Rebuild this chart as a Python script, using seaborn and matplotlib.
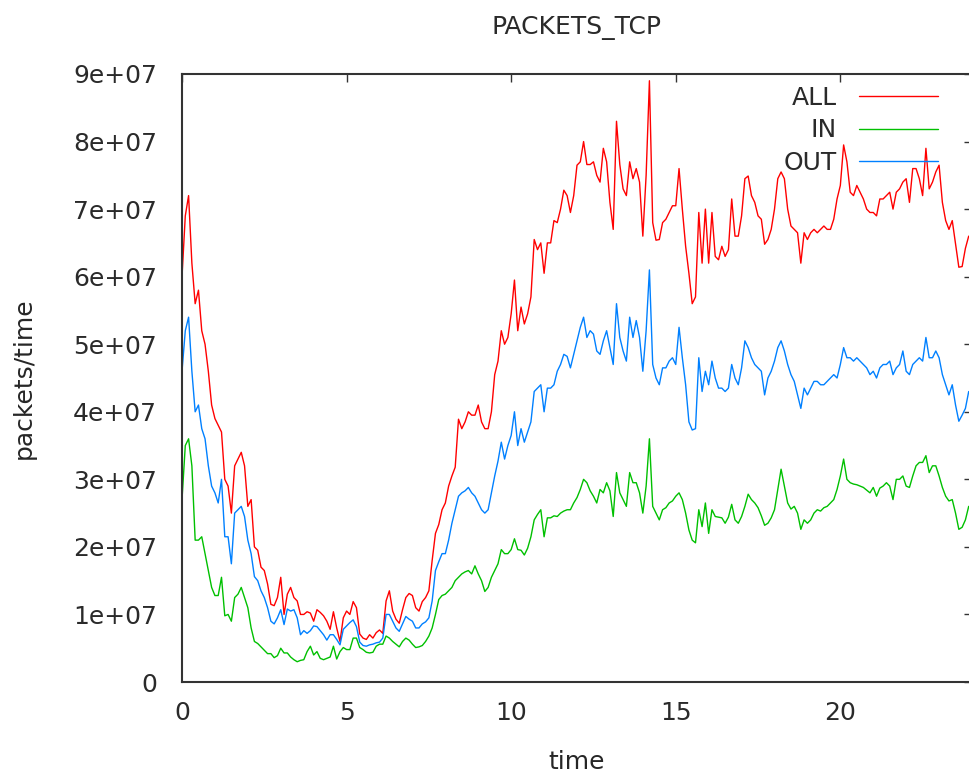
"""
packets_tcp.py - curva diaria de pacotes TCP (ALL / IN / OUT), estilo gnuplot
"""
import numpy as np
import pandas as pd
import matplotlib
matplotlib.use("Agg")
import matplotlib.pyplot as plt
from matplotlib.ticker import FuncFormatter
import seaborn as sns

# valores em milhoes de pacotes, uma amostra a cada 0.1 h (uma linha = 1 hora)
STEP_H = 0.1
SERIES = ["ALL", "IN", "OUT"]
CORES = {"ALL": "#ff0000", "IN": "#00c000", "OUT": "#0080ff"}

all_pkts = [
    60, 69, 72, 62, 56, 58, 52, 50, 46, 41,
    39, 38, 37, 30, 29, 25, 32, 33, 34, 32,
    26, 27, 20, 19.5, 17, 16.5, 14.5, 11.5, 11.3, 12.5,
    15.5, 10, 13, 14, 12.5, 12, 10, 10, 10.4, 10.2,
    9, 10.7, 10.3, 9.8, 9, 7.8, 10.4, 8, 6, 9.5,
    10.5, 10, 11.9, 11, 7.1, 6.5, 6.3, 7, 6.5, 7.3,
    7.7, 7.2, 12, 13.5, 10.5, 9.3, 8.7, 10.7, 12.5, 13.1,
    12.8, 11, 10.5, 11.9, 12.5, 13.5, 18, 22, 23.3, 25.5,
    26.5, 29, 30.5, 31.8, 38.9, 37.5, 38.5, 40, 39.5, 39.5,
    41, 38.5, 37.5, 37.5, 40, 45.5, 47.5, 52, 50, 51,
    54.5, 59.5, 52, 55.5, 53, 54.5, 57, 65.5, 64, 65,
    60.5, 65, 65, 68.3, 68, 70, 72.8, 72, 69.5, 72,
    76.5, 77, 80, 76.6, 76.6, 77, 75, 74, 79, 77,
    71, 67, 83, 76.6, 73, 72, 77, 74.5, 76, 74,
    66, 75, 89, 68, 65.4, 65.5, 68, 68.5, 69.5, 70.5,
    70.5, 76, 70, 64.5, 60.5, 56, 57, 69.5, 62, 70,
    62, 69.5, 63, 62.5, 64.5, 63, 64, 71.5, 66, 66,
    69, 74.5, 74.9, 72, 71, 69, 68.5, 64.8, 65.5, 67,
    70, 74.5, 75.5, 74.5, 70, 67.5, 67, 66.5, 62, 66.5,
    65.5, 66.5, 67, 66.5, 67, 67.5, 67, 67, 68.5, 71.5,
    73.5, 79.5, 77, 72.5, 72, 73.5, 72.5, 71.5, 70, 69.5,
    69.5, 69, 71.5, 71.5, 72, 72.5, 70, 72.5, 73, 74,
    74.5, 71, 76, 76, 74.5, 72, 79, 73, 74, 75.5,
    76.5, 71, 68.3, 67, 68.3, 64.8, 61.4, 61.5, 64.2, 66,
]

in_pkts = [
    27, 35, 36, 32, 21, 21, 21.5, 19, 16.5, 14,
    12.8, 12.8, 15.5, 9.8, 10, 9, 12.5, 13, 14, 12.5,
    11, 8, 6, 5.7, 5.2, 4.7, 4.2, 4.2, 3.6, 3.9,
    5, 4.3, 4.3, 3.7, 3.3, 3, 3.2, 3.3, 4.5, 5.3,
    4, 4.5, 3.5, 3.3, 3.5, 3.7, 5.3, 3.4, 4.5, 5.1,
    4.8, 4.8, 6.5, 6.5, 5.1, 4.8, 4.4, 4.3, 4.4, 5.3,
    5.6, 5.6, 6.8, 6.5, 6, 5.6, 5.2, 6, 6.5, 6.2,
    5.6, 5.1, 5.2, 5.4, 6, 6.8, 8, 10, 12.2, 12.8,
    13, 13.5, 14, 15, 15.5, 16, 16.3, 16.5, 16, 17.2,
    16, 15, 13.4, 14, 15.5, 16.5, 17.5, 19.6, 19, 19,
    19.6, 21.2, 19.6, 19.5, 18.8, 19.8, 21.5, 24, 24.8, 25.5,
    21.5, 24.3, 24.3, 24.6, 24.5, 25, 25.3, 25.5, 25.5, 26.5,
    27.3, 28.5, 30, 29.5, 28.3, 27.5, 26.5, 28.5, 28, 29.5,
    28.3, 24.5, 31, 28, 27, 26, 31, 29.5, 29.5, 28,
    25, 29, 36, 26, 25, 24, 25.5, 25.8, 26.5, 26.8,
    27.5, 28, 27, 25, 22.5, 21, 20.6, 25.5, 23, 26.5,
    22, 25.5, 24.5, 24.4, 24.3, 23.5, 24.4, 26.3, 24, 23.5,
    24.5, 26, 27.8, 27, 26.5, 25.8, 24.6, 23.2, 23.5, 24.3,
    25.5, 28.5, 31.5, 29, 26.5, 25.6, 26, 25, 22.6, 24,
    23.5, 24, 25, 25.5, 25.3, 25.8, 26, 26.5, 27, 28.5,
    30.5, 33, 30, 29.5, 29.3, 29.2, 29, 28.8, 28.4, 28,
    28.8, 27.5, 28.7, 29, 29.5, 29, 27, 30, 30, 30.5,
    29, 28.8, 30.5, 32, 32.5, 32.5, 33.5, 31, 32, 32,
    30.5, 28.8, 27.5, 26.8, 27, 25, 22.6, 22.9, 24, 26,
]

out_pkts = [
    46, 52, 54, 46, 40, 41, 37.5, 36, 32, 29,
    28, 26.5, 30, 21.5, 21.5, 17.5, 25, 25.5, 26, 24.5,
    21, 19, 15.6, 15, 13.5, 12.5, 11, 9, 8.6, 9.5,
    10.7, 8.5, 10.8, 10.5, 10.7, 9.5, 7, 7.6, 7.2, 7.6,
    8.3, 8.2, 7.6, 7, 6.2, 7, 7, 6.3, 5.5, 7.8,
    8.3, 8.8, 9.2, 8.2, 5.9, 5.4, 5.3, 5.5, 5.6, 5.8,
    5.9, 6.5, 10, 10, 9, 8, 7.5, 8.6, 9.7, 9.3,
    9, 8, 8, 8.6, 8.9, 9.5, 12, 16.5, 17.8, 19,
    19, 21, 23.5, 25.5, 27.5, 28, 28.3, 28.8, 28, 27.5,
    26.5, 25.5, 25, 25.5, 28, 30.5, 32.7, 35.5, 33, 35,
    36.5, 40, 35, 37.5, 35.5, 37, 38.5, 43, 43.5, 44,
    40, 43.5, 43.5, 44, 46, 47, 48.5, 48.2, 46.5, 48.5,
    50.5, 52.5, 54, 51, 52, 51.5, 49, 48.5, 50.5, 52,
    49.5, 47, 56, 51, 49, 47.5, 54, 51, 53.5, 51,
    46, 52, 61, 47, 45, 44, 46.5, 46.5, 47.5, 48,
    47, 52.5, 48, 44, 38.5, 37.3, 37.5, 48, 43, 46,
    44, 47.5, 45, 43.5, 43.5, 43, 43.5, 47, 45, 44,
    46.5, 50.5, 49.5, 48, 47, 46.5, 46, 42.5, 45, 46,
    47.5, 49.5, 50.5, 49, 47, 45.5, 44.5, 42.5, 40.5, 43.5,
    42.5, 43.5, 44.5, 44.5, 44, 44, 44.5, 45, 45.5, 45,
    47, 49.5, 48, 48, 47.5, 48, 47.5, 47, 46.5, 45.5,
    46, 45, 46.5, 47, 47, 47.5, 45.5, 46.5, 47, 49,
    46, 45.5, 47, 47.5, 48, 47.5, 51, 48, 48, 49,
    48, 45.5, 44, 42.5, 44, 41, 38.6, 39.5, 40.5, 43,
]

X_TICKS = [0, 5, 10, 15, 20]
Y_TICKS = [0, 1e7, 2e7, 3e7, 4e7, 5e7, 6e7, 7e7, 8e7, 9e7]


def montar_df():
    tempo = np.round(np.arange(len(all_pkts)) * STEP_H, 1)
    partes = []
    for nome, vals in zip(SERIES, [all_pkts, in_pkts, out_pkts]):
        partes.append(pd.DataFrame({"time": tempo,
                                    "packets": np.array(vals) * 1e6,
                                    "serie": nome}))
    return pd.concat(partes, ignore_index=True)


def fmt_y(v, _):
    return "0" if v == 0 else f"{v:.0e}"


if __name__ == "__main__":
    sns.set_style("white")
    plt.rcParams["font.family"] = ["DejaVu Sans"]
    plt.rcParams["font.size"] = 18
    plt.rcParams["text.color"] = "#2a2a2a"

    df = montar_df()

    fig = plt.figure(figsize=(9.69, 7.76), dpi=100)
    ax = fig.add_axes([182 / 969, 1 - 682 / 776, 790 / 969, 608 / 776])

    sns.lineplot(data=df, x="time", y="packets", hue="serie", hue_order=SERIES,
                 palette=CORES, estimator=None, linewidth=1.0, ax=ax)

    ax.set_xlim(0, 24)
    ax.set_ylim(0, 9e7)
    ax.set_xticks(X_TICKS)
    ax.set_yticks(Y_TICKS)
    ax.yaxis.set_major_formatter(FuncFormatter(fmt_y))

    for s in ax.spines.values():
        s.set_visible(True)
        s.set_color("#333333")
        s.set_linewidth(1.5)
    ax.tick_params(direction="in", length=5.5, width=1.0, colors="#333333",
                   top=True, right=True, labelsize=18, labelcolor="#2a2a2a")
    ax.tick_params(axis="y", pad=18)
    ax.tick_params(axis="x", pad=14)

    ax.set_title("PACKETS_TCP", fontsize=18, pad=29)
    ax.set_xlabel("time", fontsize=18)
    ax.set_ylabel("packets/time", fontsize=18)
    ax.xaxis.set_label_coords(0.5, -0.112)
    ax.yaxis.set_label_coords(-0.185, 0.5)

    handles, labels = ax.get_legend_handles_labels()
    leg = ax.legend(handles, labels, loc="upper right", bbox_to_anchor=(0.957, 0.98),
                    frameon=False, markerfirst=False, borderpad=0, borderaxespad=0,
                    handlelength=3.16, handletextpad=0.88, labelspacing=0.33, fontsize=18)
    for ln in leg.get_lines():
        ln.set_linewidth(1.0)

    fig.savefig("out.png", dpi=100)
